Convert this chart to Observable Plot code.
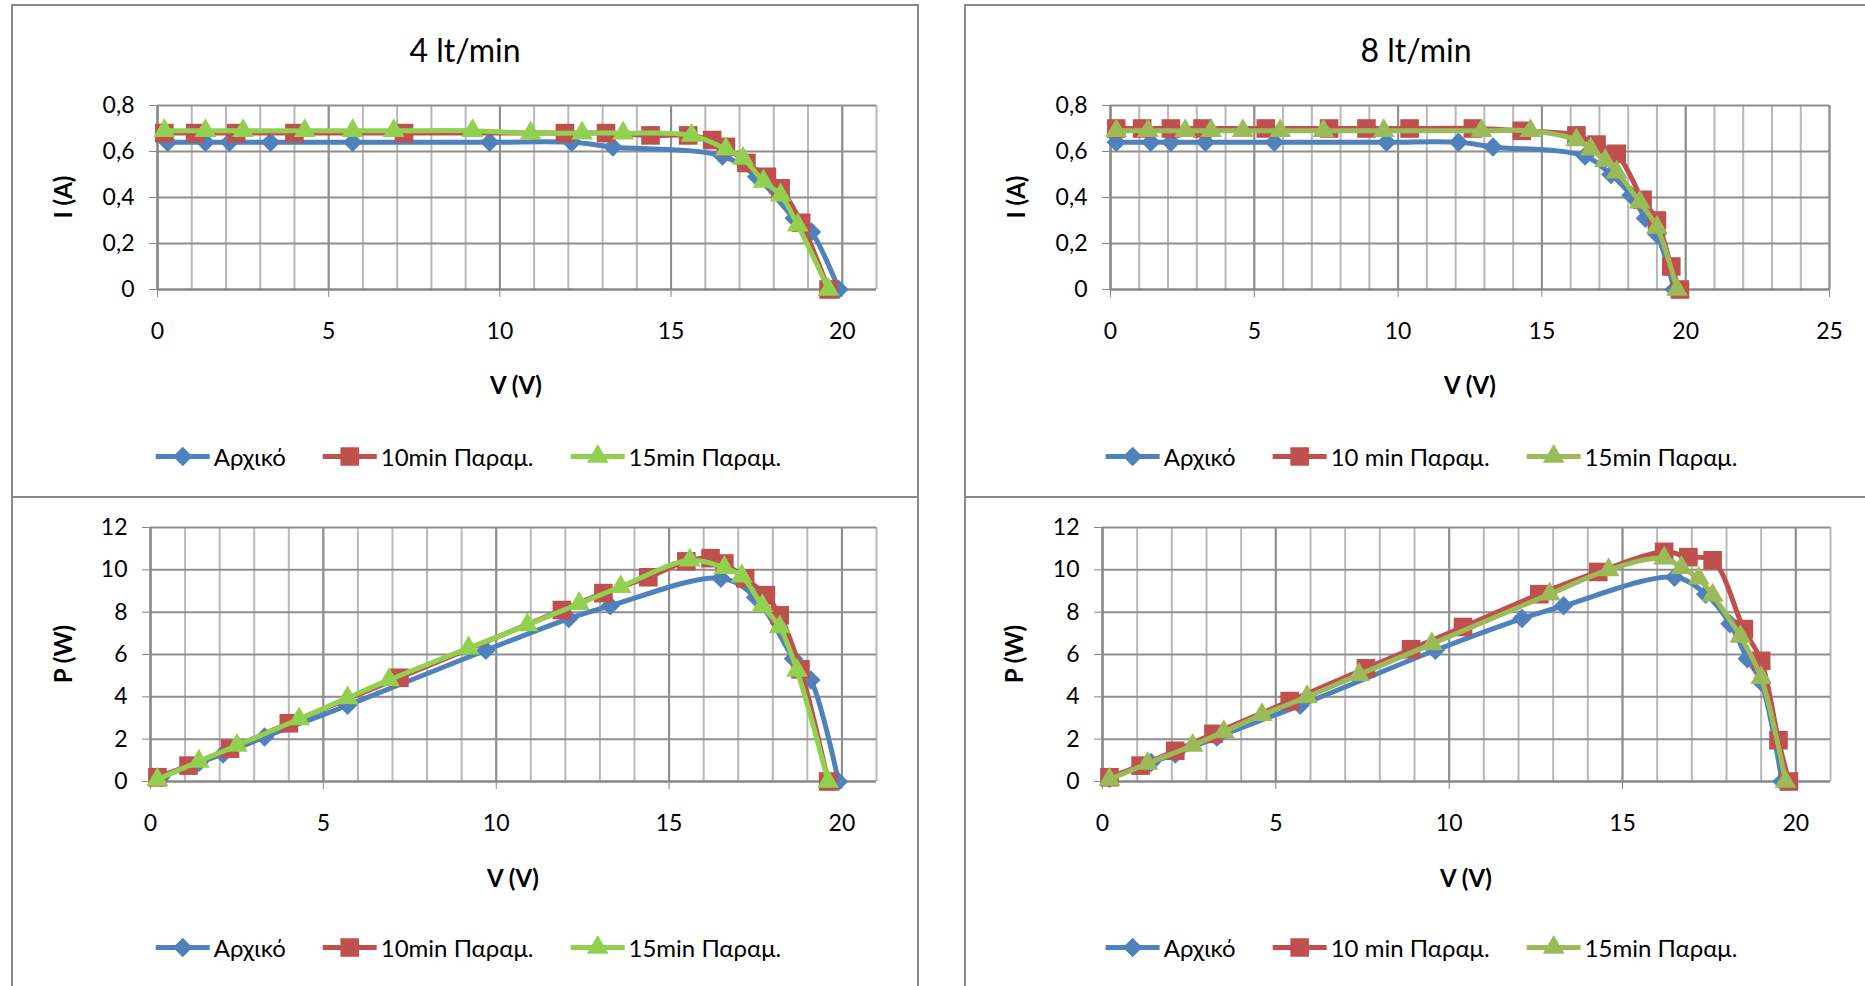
<!DOCTYPE html>
<html>
<head>
<meta charset="utf-8">
<script src="https://cdn.jsdelivr.net/npm/d3@7"></script>
<script src="https://cdn.jsdelivr.net/npm/@observablehq/plot@0.6"></script>
<style>
  html, body { margin: 0; padding: 0; background: #fff; }
  body { width: 1865px; height: 986px; overflow: hidden; position: relative; font-family: Lato, "Noto Sans", "DejaVu Sans", sans-serif; color: #000; }
  .panel { position: absolute; border: 2px solid #8a8a8a; box-sizing: border-box; }
  .chart { position: absolute; }
  .chart svg text { fill: #000; }
  .title { position: absolute; font-size: 32px; transform: translate(-50%, -50%); white-space: nowrap; }
  .xlab { position: absolute; font-size: 24px; font-weight: bold; transform: translate(-50%, -50%); white-space: nowrap; }
  .ylab { position: absolute; font-size: 24px; font-weight: bold; transform: translate(-50%, -50%) rotate(-90deg); white-space: nowrap; }
  .legend { position: absolute; display: flex; align-items: center; transform: translate(-50%, -50%); white-space: nowrap; font-size: 24px; }
  .legend .item { display: flex; align-items: center; margin-right: 36px; }
  .legend .item:last-child { margin-right: 0; }
  .legend svg { margin-right: 3px; }
</style>
</head>
<body>
<script>
// ---------------- data ----------------
const titles = ["4 lt/min", "8 lt/min"];
const namesFlow4 = ["Αρχικό", "10min Παραμ.", "15min Παραμ."];
const namesFlow8 = ["Αρχικό", "10 min Παραμ.", "15min Παραμ."];
const xLabel = "V (V)";
const yLabelI = "I (A)";
const yLabelP = "P (W)";

const vTicks20 = [0, 5, 10, 15, 20];
const vTicks25 = [0, 5, 10, 15, 20, 25];
const iTicks = [0, 0.2, 0.4, 0.6, 0.8];
const pTicks = [0, 2, 4, 6, 8, 10, 12];

// 4 lt/min
const v4Base = [0.3, 1.4, 2.1, 3.3, 5.7, 9.7, 12.1, 13.3, 16.5, 17.5, 18.6, 19.1, 19.9];
const i4Base = [0.64, 0.64, 0.64, 0.64, 0.64, 0.64, 0.64, 0.62, 0.58, 0.49, 0.31, 0.25, 0];
const p4Base = [0.2, 0.9, 1.3, 2.1, 3.6, 6.2, 7.7, 8.3, 9.6, 8.7, 5.8, 4.8, 0];

const v4Ten = [0.2, 1.1, 2.3, 4.0, 7.2, 11.9, 13.1, 14.4, 15.5, 16.2, 16.6, 17.2, 17.8, 18.2, 18.8, 19.6];
const i4Ten = [0.68, 0.68, 0.68, 0.68, 0.68, 0.68, 0.68, 0.67, 0.67, 0.65, 0.62, 0.55, 0.49, 0.44, 0.29, 0];
const p4Ten = [0.2, 0.75, 1.55, 2.75, 4.9, 8.1, 8.9, 9.65, 10.4, 10.55, 10.3, 9.6, 8.8, 7.85, 5.3, 0];

const v4Fifteen = [0.2, 1.4, 2.5, 4.3, 5.7, 6.9, 9.2, 10.9, 12.4, 13.6, 15.6, 16.6, 17.1, 17.7, 18.2, 18.7, 19.6];
const i4Fifteen = [0.69, 0.69, 0.69, 0.69, 0.69, 0.69, 0.69, 0.68, 0.68, 0.68, 0.67, 0.61, 0.57, 0.47, 0.41, 0.28, 0];
const p4Fifteen = [0.1, 0.95, 1.7, 2.95, 3.95, 4.8, 6.3, 7.4, 8.4, 9.2, 10.45, 10.1, 9.7, 8.3, 7.3, 5.25, 0];

// 8 lt/min
const v8Base = [0.2, 1.4, 2.1, 3.3, 5.7, 9.6, 12.1, 13.3, 16.5, 17.4, 18.1, 18.6, 19.0, 19.6];
const i8Base = [0.64, 0.64, 0.64, 0.64, 0.64, 0.64, 0.64, 0.62, 0.58, 0.50, 0.41, 0.31, 0.24, 0];
const p8Base = [0.15, 0.9, 1.3, 2.1, 3.6, 6.2, 7.7, 8.3, 9.65, 8.85, 7.45, 5.8, 4.7, 0];

const v8Ten = [0.2, 1.1, 2.1, 3.2, 5.4, 7.6, 8.9, 10.4, 12.6, 14.3, 16.2, 16.9, 17.6, 18.5, 19.0, 19.5, 19.8];
const i8Ten = [0.70, 0.70, 0.70, 0.70, 0.70, 0.70, 0.70, 0.70, 0.70, 0.69, 0.67, 0.63, 0.59, 0.39, 0.30, 0.10, 0];
const p8Ten = [0.2, 0.75, 1.45, 2.25, 3.8, 5.35, 6.25, 7.3, 8.85, 9.9, 10.85, 10.6, 10.45, 7.2, 5.7, 1.95, 0];

const v8Fifteen = [0.2, 1.3, 2.6, 3.5, 4.6, 5.9, 7.4, 9.5, 12.9, 14.6, 16.2, 16.7, 17.2, 17.6, 18.4, 19.0, 19.7];
const i8Fifteen = [0.69, 0.69, 0.69, 0.69, 0.69, 0.69, 0.69, 0.69, 0.69, 0.69, 0.65, 0.61, 0.56, 0.51, 0.38, 0.27, 0];
const p8Fifteen = [0.1, 0.85, 1.7, 2.35, 3.15, 4.0, 5.05, 6.5, 8.85, 10.0, 10.55, 10.1, 9.6, 8.8, 6.85, 4.9, 0];

// ---------------- styles ----------------
const BLUE = "#4F81BD", RED = "#C0504D", LIME = "#92D050", OLIVE = "#9BBB59";
const markers = [
  {symbol: "diamond2", r: 8.8},
  {symbol: "square", r: 10.5},
  {symbol: "triangle", r: 8.1}
];

function el(tag, cls, style, text) {
  const e = document.createElement(tag);
  if (cls) e.className = cls;
  Object.assign(e.style, style || {});
  if (text != null) e.textContent = text;
  document.body.appendChild(e);
  return e;
}

function panel(x, y, w, h) {
  el("div", "panel", {left: x + "px", top: y + "px", width: w + "px", height: h + "px"});
}

const fmtDec = d => String(Math.round(d * 10) / 10).replace(".", ",");

function chart(cfg) {
  const marks = [
    Plot.ruleX(d3.range(cfg.xDomain[0], cfg.xDomain[1] + 1), {stroke: "#b8b8b8", strokeWidth: 2}),
    Plot.ruleX(cfg.xTicks, {stroke: "#8e8e8e", strokeWidth: 2}),
    Plot.ruleY(cfg.yTicks, {stroke: "#8e8e8e", strokeWidth: 2}),
    Plot.ruleX([0], {stroke: "#868686", strokeWidth: 2}),
    Plot.ruleY([0], {stroke: "#868686", strokeWidth: 2})
  ];
  cfg.series.forEach((s, k) => {
    const data = s.v.map((v, i) => ({v, y: s.y[i]}));
    marks.push(Plot.line(data, {x: "v", y: "y", stroke: s.color, strokeWidth: 5, curve: "catmull-rom"}));
    marks.push(Plot.dot(data, {x: "v", y: "y", fill: s.color, stroke: "none", symbol: markers[k].symbol, r: markers[k].r}));
  });
  const svg = Plot.plot({
    width: cfg.width,
    height: cfg.height,
    marginLeft: cfg.ml,
    marginRight: cfg.mr,
    marginTop: cfg.mt,
    marginBottom: cfg.mb,
    x: {domain: cfg.xDomain, ticks: cfg.xTicks, tickSize: 8, tickPadding: 25, tickFormat: d => String(d), label: null},
    y: {domain: cfg.yDomain, ticks: cfg.yTicks, tickSize: 8, tickPadding: 15, tickFormat: cfg.yFormat, label: null},
    style: {fontFamily: 'Lato, "Noto Sans", sans-serif', fontSize: "23px", color: "#868686", background: "transparent", overflow: "visible"},
    marks
  });
  const wrap = el("div", "chart", {left: cfg.left + "px", top: cfg.top + "px"});
  wrap.appendChild(svg);
}

function legend(cx, cy, names, colors) {
  const box = el("div", "legend", {left: cx + "px", top: cy + "px"});
  names.forEach((name, k) => {
    const item = document.createElement("div");
    item.className = "item";
    const sw = d3.create("svg").attr("width", 56).attr("height", 24);
    sw.append("line").attr("x1", 1).attr("x2", 55).attr("y1", 12).attr("y2", 12)
      .attr("stroke", colors[k]).attr("stroke-width", 5);
    sw.append("path").attr("transform", "translate(28,12)")
      .attr("d", d3.symbol(k === 0 ? d3.symbolDiamond2 : k === 1 ? d3.symbolSquare : d3.symbolTriangle,
        Math.PI * markers[k].r * markers[k].r)())
      .attr("fill", colors[k]);
    item.appendChild(sw.node());
    const t = document.createElement("span");
    t.textContent = name;
    item.appendChild(t);
    box.appendChild(item);
  });
}

// ---------------- panels ----------------
panel(11, 4, 908, 494);
panel(11, 496, 908, 500);
panel(964, 4, 910, 494);
panel(964, 496, 910, 500);

// titles
el("div", "title", {left: "465px", top: "49px"}, titles[0]);
el("div", "title", {left: "1416px", top: "49px"}, titles[1]);

// 4 lt/min I-V
chart({
  left: 14, top: 80, width: 902, height: 290, ml: 143, mr: 40, mt: 25, mb: 81,
  xDomain: [0, 21], xTicks: vTicks20, yDomain: [0, 0.8], yTicks: iTicks, yFormat: fmtDec,
  series: [
    {v: v4Base, y: i4Base, color: BLUE},
    {v: v4Ten, y: i4Ten, color: RED},
    {v: v4Fifteen, y: i4Fifteen, color: LIME}
  ]
});
// 8 lt/min I-V
chart({
  left: 967, top: 80, width: 898, height: 290, ml: 143, mr: 36, mt: 25, mb: 81,
  xDomain: [0, 25], xTicks: vTicks25, yDomain: [0, 0.8], yTicks: iTicks, yFormat: fmtDec,
  series: [
    {v: v8Base, y: i8Base, color: BLUE},
    {v: v8Ten, y: i8Ten, color: RED},
    {v: v8Fifteen, y: i8Fifteen, color: OLIVE}
  ]
});
// 4 lt/min P-V
chart({
  left: 14, top: 500, width: 902, height: 370, ml: 136, mr: 40, mt: 27, mb: 89,
  xDomain: [0, 21], xTicks: vTicks20, yDomain: [0, 12], yTicks: pTicks, yFormat: d => String(d),
  series: [
    {v: v4Base, y: p4Base, color: BLUE},
    {v: v4Ten, y: p4Ten, color: RED},
    {v: v4Fifteen, y: p4Fifteen, color: LIME}
  ]
});
// 8 lt/min P-V
chart({
  left: 967, top: 500, width: 898, height: 370, ml: 135, mr: 35, mt: 27, mb: 89,
  xDomain: [0, 21], xTicks: vTicks20, yDomain: [0, 12], yTicks: pTicks, yFormat: d => String(d),
  series: [
    {v: v8Base, y: p8Base, color: BLUE},
    {v: v8Ten, y: p8Ten, color: RED},
    {v: v8Fifteen, y: p8Fifteen, color: OLIVE}
  ]
});

// axis titles
el("div", "ylab", {left: "62px", top: "197px"}, yLabelI);
el("div", "ylab", {left: "1015px", top: "197px"}, yLabelI);
el("div", "ylab", {left: "62px", top: "654px"}, yLabelP);
el("div", "ylab", {left: "1013px", top: "654px"}, yLabelP);
el("div", "xlab", {left: "516px", top: "384px"}, xLabel);
el("div", "xlab", {left: "1470px", top: "384px"}, xLabel);
el("div", "xlab", {left: "513px", top: "877px"}, xLabel);
el("div", "xlab", {left: "1466px", top: "877px"}, xLabel);

// legends
legend(468, 456, namesFlow4, [BLUE, RED, LIME]);
legend(1421, 456, namesFlow8, [BLUE, RED, OLIVE]);
legend(468, 947, namesFlow4, [BLUE, RED, LIME]);
legend(1421, 947, namesFlow8, [BLUE, RED, OLIVE]);
</script>
</body>
</html>
